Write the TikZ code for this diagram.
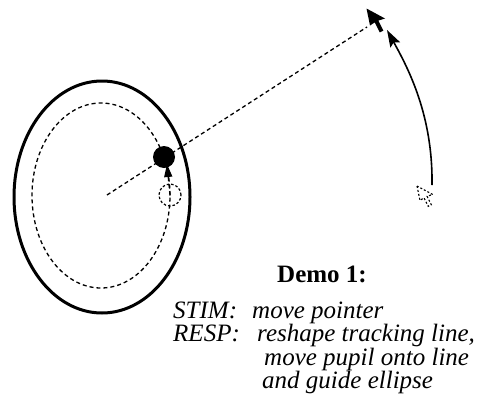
\documentclass[tikz,border=0pt]{standalone}
\usepackage{fontspec}
\setmainfont{Liberation Serif}
\usetikzlibrary{arrows.meta,calc,shapes.geometric}
\begin{document}
\begin{tikzpicture}[x=1pt,y=-1pt,
  dashline/.style={line width=1.3pt,dash pattern=on 4pt off 3pt},
  finedash/.style={line width=1.1pt,dash pattern=on 2pt off 2pt},
  txt/.style={anchor=base west,inner sep=0pt,text height=15pt,text depth=4pt,font=\fontsize{25}{23}\selectfont\itshape},
  cursor/.pic={\path[pic actions] (0,0) -- (3.5,17) -- (8.2,13.9) -- (13.2,23.9) -- (16.8,22.1) -- (11.8,12.1) -- (18.5,10) -- cycle;}]
\useasboundingbox (0,0) rectangle (479,402);
% eye outline and guide ellipse
\node[draw, ellipse, line width=3pt, minimum width=176pt, minimum height=232pt, inner sep=0pt] (eye) at (102,197) {};
\node[draw, ellipse, dashline, minimum width=138pt, minimum height=185pt, inner sep=0pt] (guide) at (101,195.5) {};
% tracking line
\coordinate (ctr) at (107,195);
\coordinate (newptr) at (367,27);
\draw[dashline] (ctr) -- (newptr);
% pupils
\node[circle, draw, line width=1.2pt, dash pattern=on 2.5pt off 2pt, minimum size=22pt, inner sep=0pt] (oldpupil) at (170,195) {};
\coordinate (ptip) at (167,164);
\draw[dashline, -{Triangle[length=13pt,width=8pt]}] (oldpupil.center) -- (ptip);
\node[circle, fill=black, minimum size=22pt, inner sep=0pt] (pupil) at (164,157) {};
% pointers
\pic[fill=black] at (366.5,8.5) {cursor};
\pic[draw, finedash, scale=0.85] at (417,186) {cursor};
\coordinate (oldptr) at (432,185);
\coordinate (arrtip) at (387,30);
\draw[line width=1.6pt, -{Stealth[length=17pt,width=11pt,inset=3pt]}] (oldptr) .. controls (433,115) and (408,68) .. (arrtip);
% texts
\node[anchor=base, inner sep=0pt, text height=17pt, text depth=1pt, font=\fontsize{25}{25}\selectfont\bfseries] (demo) at (322,282) {Demo 1:};
\node[txt] (stim) at (173,318) {STIM:};
\node[txt] (stimtxt) at (252,318) {move pointer};
\node[txt] (resp) at (173,341) {RESP:};
\node[txt] (resp1) at (257,341) {reshape tracking line,};
\node[txt] (resp2) at (264,365) {move pupil onto line};
\node[txt] (resp3) at (262,388) {and guide ellipse};
\end{tikzpicture}
\end{document}
